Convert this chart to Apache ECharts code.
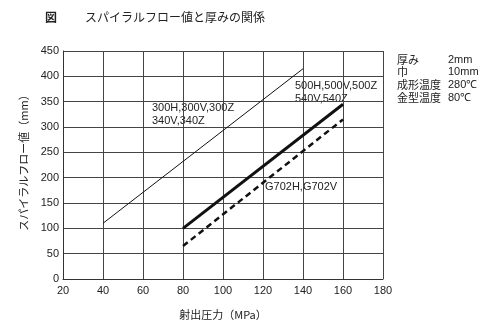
<!DOCTYPE html>
<html><head><meta charset="utf-8">
<script src="https://cdn.jsdelivr.net/npm/echarts@6/dist/echarts.min.js"></script>
<style>html,body{margin:0;padding:0;background:#fff}#c{width:500px;height:335px}</style>
</head><body><div id="c"></div>
<script>
const xTicks = [20, 40, 60, 80, 100, 120, 140, 160, 180];
const yTicks = [0, 50, 100, 150, 200, 250, 300, 350, 400, 450];
const line300 = [[40, 110], [140, 415]];
const line500 = [[80, 100], [160, 345]];
const lineG702 = [[80, 65], [160, 315]];
const conditions = [['厚み', '2mm'], ['巾', '10mm'], ['成形温度', '280℃'], ['金型温度', '80℃']];
const FONT = '"Noto Sans CJK JP", "Liberation Sans", sans-serif';
const chart = echarts.init(document.getElementById('c'));
const gfx = [
  {type:'text', left:45, top:11, style:{text:'図', font:'bold 12px ' + FONT, fill:'#222'}},
  {type:'text', left:85, top:11, style:{text:'スパイラルフロー値と厚みの関係', font:'12px ' + FONT, fill:'#222'}},
  {type:'text', left:152, top:101, style:{text:'300H,300V,300Z\n340V,340Z', font:'11px "Liberation Sans", sans-serif', fill:'#222', lineHeight:13}},
  {type:'text', left:295, top:79, style:{text:'500H,500V,500Z\n540V,540Z', font:'11px "Liberation Sans", sans-serif', fill:'#222', lineHeight:13}},
  {type:'text', left:265, top:181, style:{text:'G702H,G702V', font:'11px "Liberation Sans", sans-serif', fill:'#222'}}
];
conditions.forEach((c, i) => {
  gfx.push({type:'text', left:397, top:54 + i*12.7, style:{text:c[0], font:'11px ' + FONT, fill:'#222'}});
  gfx.push({type:'text', left:448, top:54 + i*12.7, style:{text:c[1], font:'11px "Liberation Sans", sans-serif', fill:'#222'}});
});
chart.setOption({
  animation:false,
  grid:{left:63, right:117, top:51, bottom:56},
  xAxis:{type:'value', min:20, max:180, interval:20,
    name:'射出圧力（MPa）', nameLocation:'middle', nameGap:30,
    nameTextStyle:{fontFamily:FONT, fontSize:11, color:'#222'},
    axisLine:{lineStyle:{color:'#333'}}, axisTick:{show:false},
    axisLabel:{color:'#222', fontSize:11, fontFamily:'Liberation Sans', margin:6},
    splitLine:{show:true, lineStyle:{color:'#444', width:1}}},
  yAxis:{type:'value', min:0, max:450, interval:50,
    name:'スパイラルフロー値（mm）', nameLocation:'middle', nameGap:31, nameRotate:90,
    nameTextStyle:{fontFamily:FONT, fontSize:11, color:'#222', padding:[0,0,0,10]},
    axisLine:{show:true, lineStyle:{color:'#333'}}, axisTick:{show:false},
    axisLabel:{color:'#222', fontSize:11, fontFamily:'Liberation Sans', margin:4},
    splitLine:{show:true, lineStyle:{color:'#444', width:1}}},
  series:[
    {type:'line', data:line300, symbol:'none', lineStyle:{color:'#111', width:1}},
    {type:'line', data:line500, symbol:'none', lineStyle:{color:'#111', width:3}},
    {type:'line', data:lineG702, symbol:'none', lineStyle:{color:'#111', width:2.5, type:[6,4]}}
  ],
  graphic:gfx
});
</script></body></html>
